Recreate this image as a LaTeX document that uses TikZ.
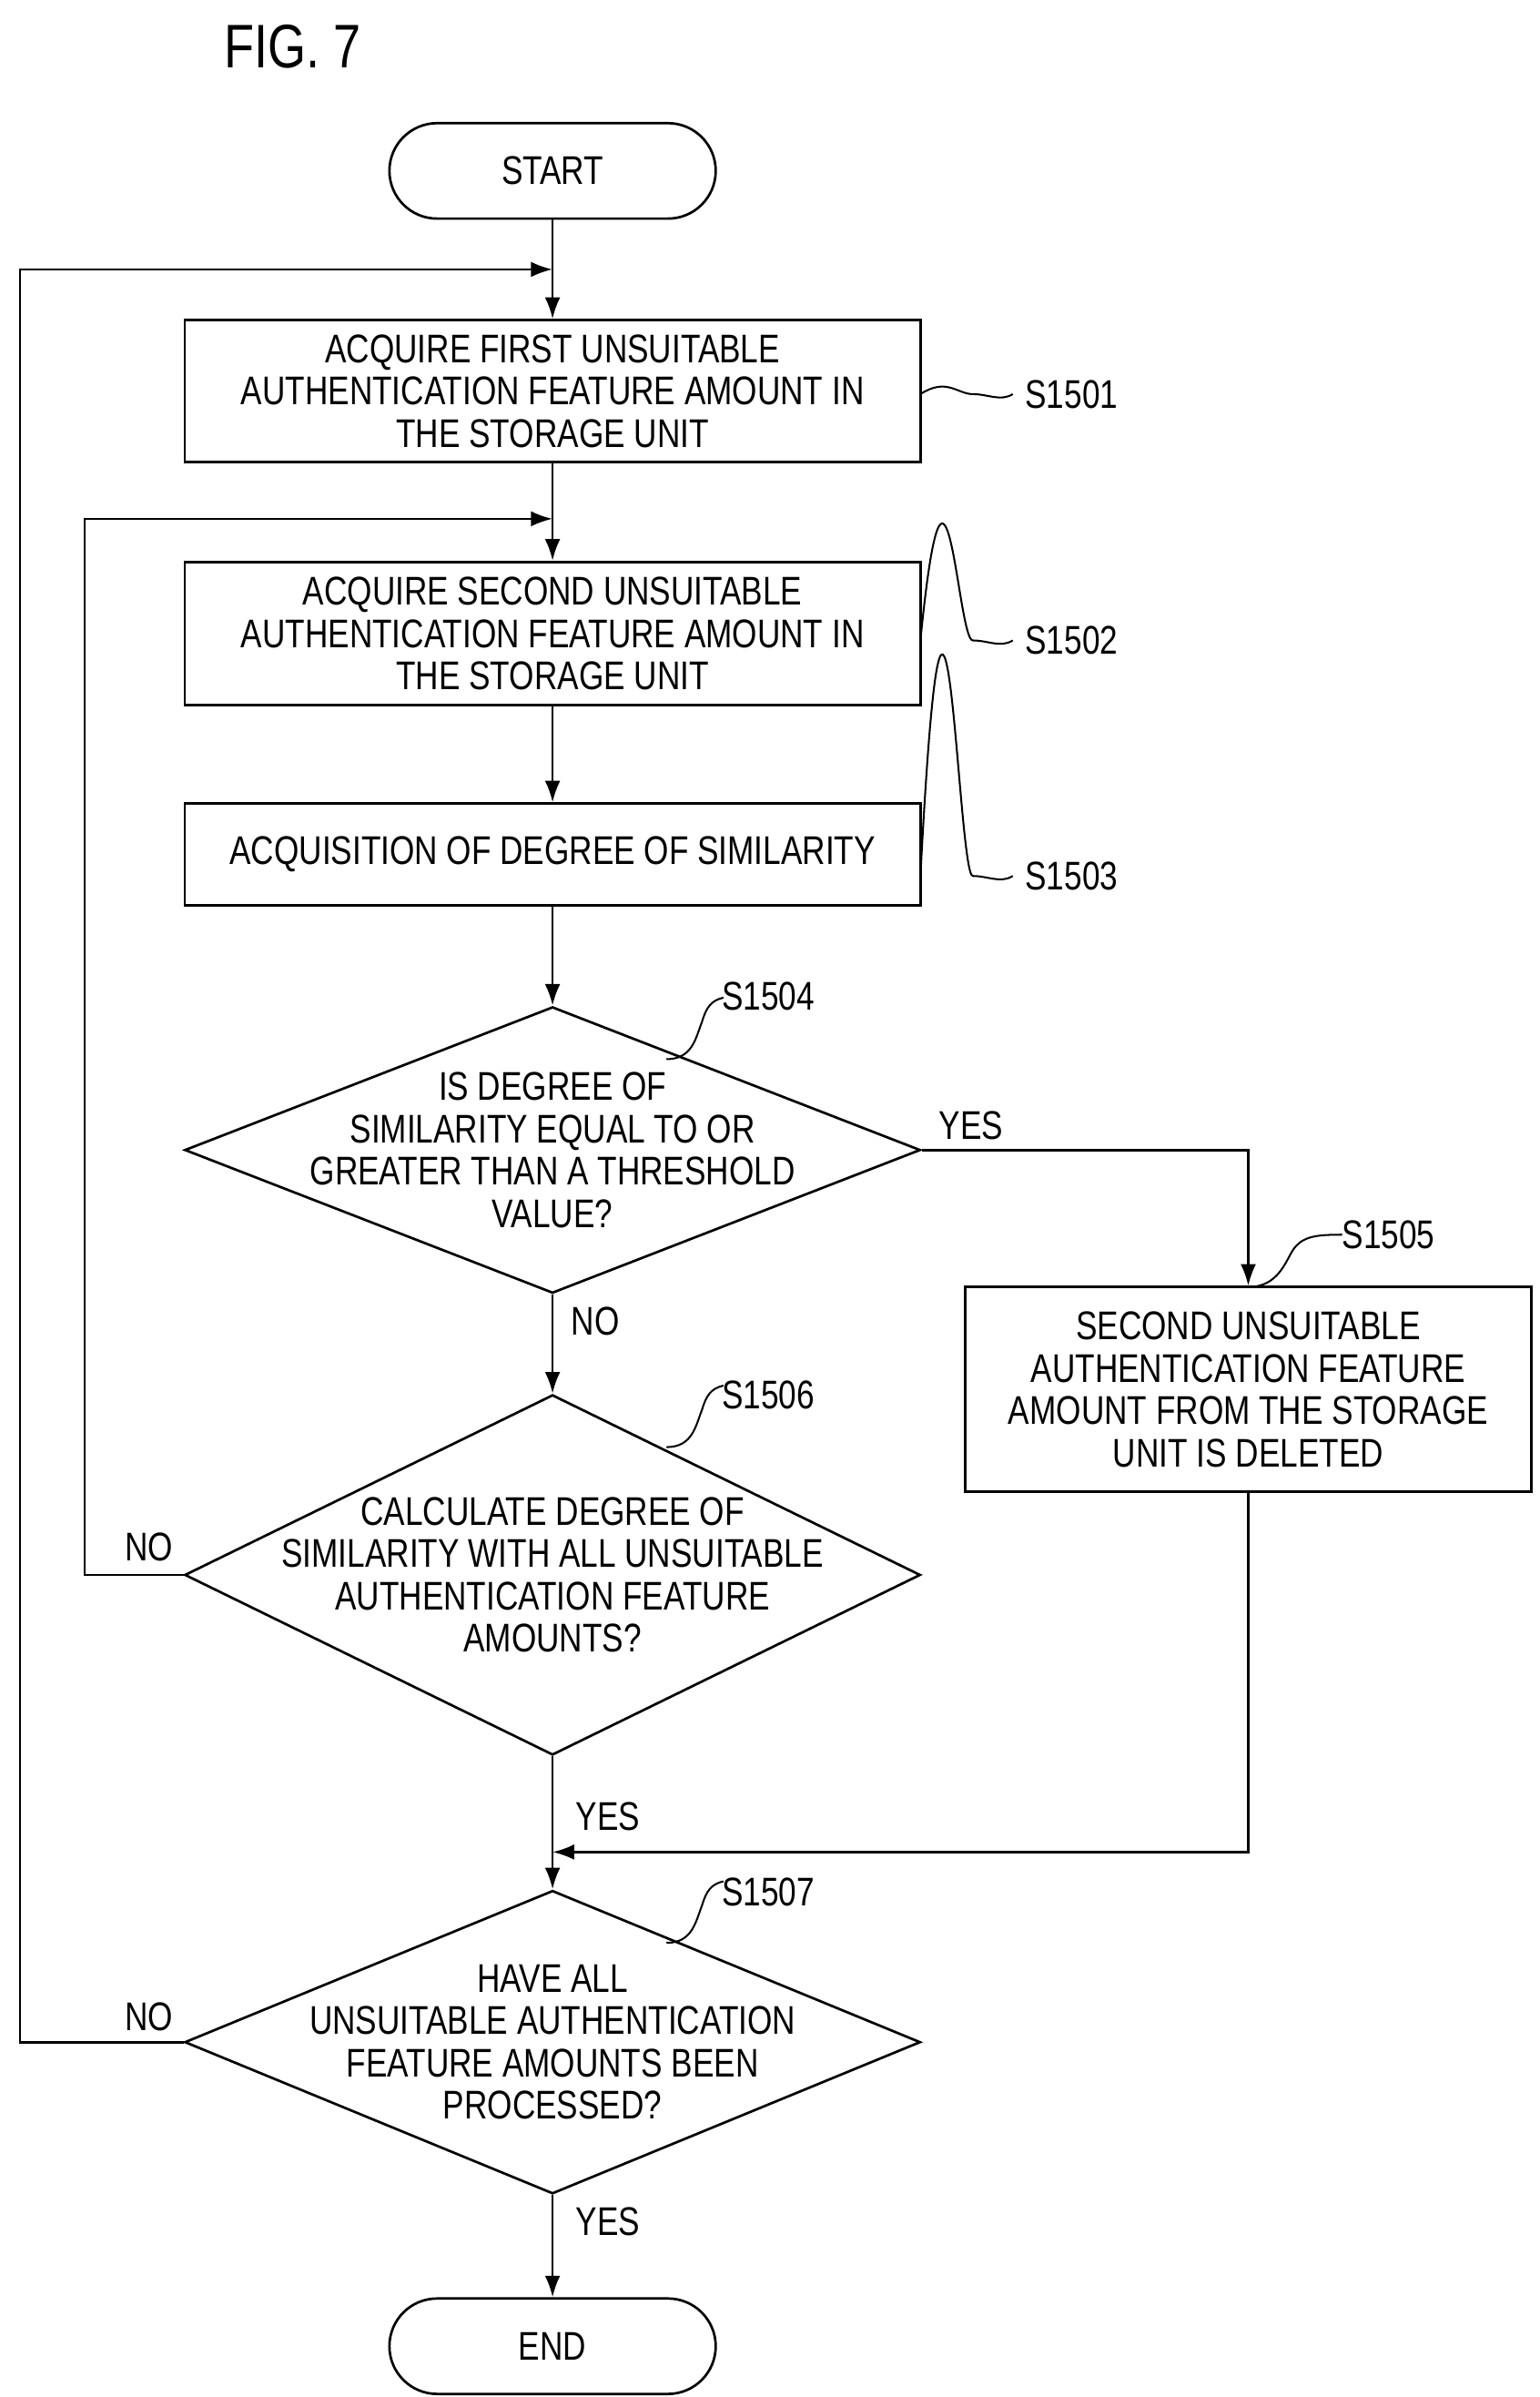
\documentclass[tikz,border=0pt]{standalone}
\usepackage{fontspec}
\setmainfont{Liberation Sans}[FakeStretch=0.8]
\usetikzlibrary{shapes.geometric,arrows.meta}
\begin{document}
\begin{tikzpicture}[x=1pt,y=-1pt,line width=1.6pt,
 box/.style={draw,rectangle,inner sep=0,align=center,font=\fontsize{26}{27.5}\selectfont},
 term/.style={draw,rounded corners=31pt,minimum width=212pt,minimum height=62pt,font=\fontsize{26}{27.5}\selectfont},
 dia/.style={draw,diamond,inner sep=0,minimum width=478pt},
 txt/.style={align=center,font=\fontsize{26}{27.5}\selectfont},
 lbl/.style={font=\fontsize{26}{27.5}\selectfont,anchor=west},
 arr/.style={-{Latex[length=14pt,width=10pt]}}]
\useasboundingbox (0,0) rectangle (1000,1557);
\node[font=\fontsize{40}{44}\selectfont] (fig) at (190,30) {FIG. 7};
\node[term] (start) at (359,111) {START};
\node[box,minimum width=478pt,minimum height=92pt] (s1) at (359,254) {ACQUIRE FIRST UNSUITABLE\\AUTHENTICATION FEATURE AMOUNT IN\\THE STORAGE UNIT};
\node[box,minimum width=478pt,minimum height=93pt] (s2) at (359,411.5) {ACQUIRE SECOND UNSUITABLE\\AUTHENTICATION FEATURE AMOUNT IN\\THE STORAGE UNIT};
\node[box,minimum width=478pt,minimum height=66pt] (s3) at (359,555) {ACQUISITION OF DEGREE OF SIMILARITY};
\node[dia,minimum height=186pt] (d4) at (359,747) {};
\node[txt] at (d4) {IS DEGREE OF\\SIMILARITY EQUAL TO OR\\GREATER THAN A THRESHOLD\\VALUE?};
\node[box,minimum width=368pt,minimum height=133pt] (s5) at (811,902.5) {SECOND UNSUITABLE\\AUTHENTICATION FEATURE\\AMOUNT FROM THE STORAGE\\UNIT IS DELETED};
\node[dia,minimum height=234pt] (d6) at (359,1023) {};
\node[txt] at (d6) {CALCULATE DEGREE OF\\SIMILARITY WITH ALL UNSUITABLE\\AUTHENTICATION FEATURE\\AMOUNTS?};
\node[dia,minimum height=197pt] (d7) at (359,1326.5) {};
\node[txt] at (d7) {HAVE ALL\\UNSUITABLE AUTHENTICATION\\FEATURE AMOUNTS BEEN\\PROCESSED?};
\node[term] (end) at (359,1524) {END};
\coordinate (m1) at (359,175);
\coordinate (m2) at (359,337);
\coordinate (m3) at (359,1203);
\draw (start) -- (m1);
\draw[arr] (m1) -- (s1);
\draw (s1) -- (m2);
\draw[arr] (m2) -- (s2);
\draw[arr] (s2) -- (s3);
\draw[arr] (s3) -- (d4);
\draw[arr] (d4) -- (d6);
\draw[arr] (d4.east) -| (s5.north);
\draw (d6) -- (m3);
\draw[arr] (s5.south) |- (m3);
\draw[arr] (m3) -- (d7);
\draw[arr] (d7) -- (end);
\draw[arr] (d6.west) -- (55,1023) -- (55,337) -- (m2);
\draw[arr] (d7.west) -- (13,1326.5) -- (13,175) -- (m1);
\node[lbl] at (606,731) {YES};
\node[lbl] at (367,858) {NO};
\node[lbl] at (77,1005) {NO};
\node[lbl] at (370,1180) {YES};
\node[lbl] at (77,1310) {NO};
\node[lbl] at (370,1443) {YES};
\node[lbl] (l1) at (662,256) {S1501};
\node[lbl] (l2) at (662,416) {S1502};
\node[lbl] (l3) at (662,569) {S1503};
\node[lbl] (l4) at (465,647) {S1504};
\node[lbl] (l5) at (868,802) {S1505};
\node[lbl] (l6) at (465,906) {S1506};
\node[lbl] (l7) at (465,1229) {S1507};
\foreach \y in {256,416,569}{
 \draw[line width=1.2pt] (598,\y) .. controls (615,245) and (622,\y) .. (632,\y) .. controls (642,\y) and (650,\y+5) .. (658,\y);}
\foreach \y in {688,940,1262}{
 \draw[line width=1.2pt] (433,\y) .. controls (450,\y) and (452,\y-14) .. (456,\y-24) .. controls (459,\y-34) and (462,\y-38) .. (470,\y-40);}
\draw[line width=1.2pt] (811,836) .. controls (830,836) and (835,820) .. (840,812) .. controls (846,803) and (855,802) .. (872,802);
\end{tikzpicture}
\end{document}
